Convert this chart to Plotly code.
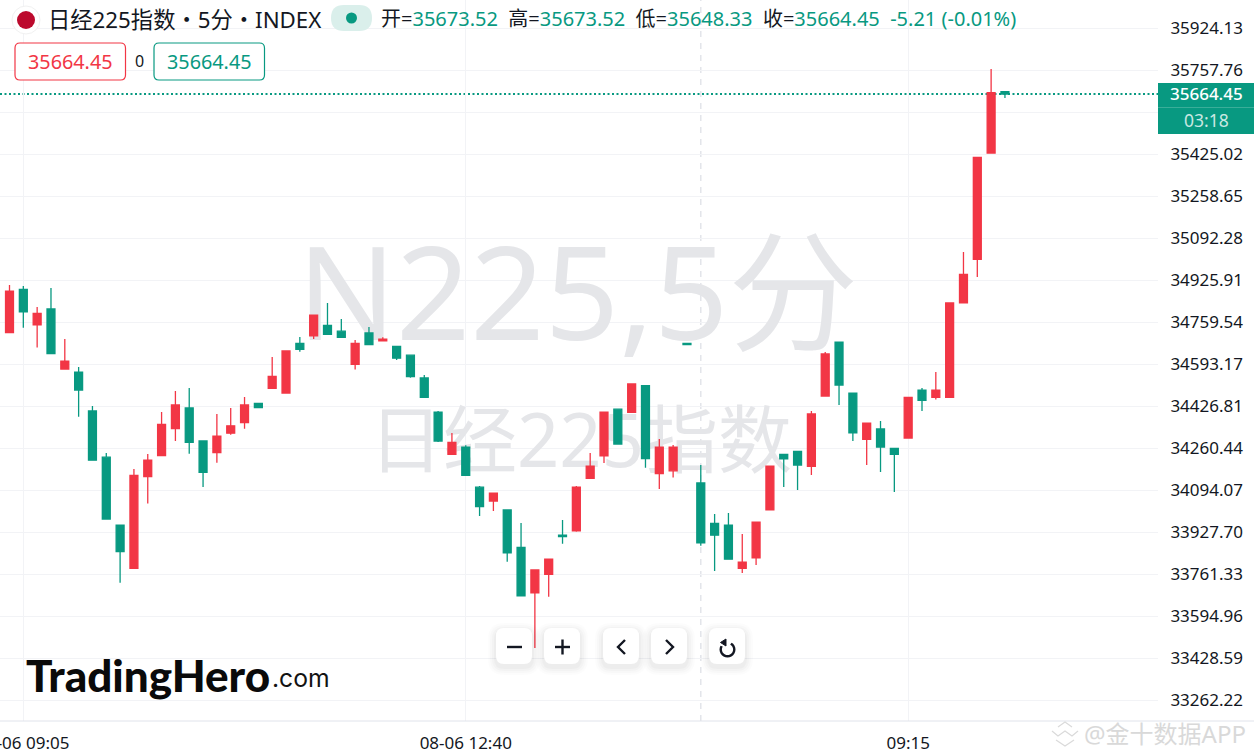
import math

import plotly.graph_objects as go

FONT = "Noto Sans, Noto Sans CJK SC, sans-serif"
UP = "#f23645"
DOWN = "#089981"
GRID = "#f2f3f6"
AXIS = "#e0e3eb"
WIDTH = 1254
HEIGHT = 755
PLOT_W = 1158
PLOT_H = 721

# 5 minute bars
opens = [34719, 34891, 34750, 34813, 34575, 34563, 34409, 34226, 33957, 33786, 34149, 34232,
         34339, 34421, 34290, 34244, 34321, 34363, 34439, 34499, 34480, 34677, 34707, 34748,
         34725, 34594, 34718, 34687, 34665, 34630, 34540, 34404, 34237, 34266, 34107, 34052,
         34017, 33869, 33689, 33762, 33917, 33934, 34142, 34231, 34416, 34404, 34509, 34161,
         34172, 34677, 34124, 33964, 33957, 33786, 33827, 34017, 34237, 34249, 34190, 34468,
         34682, 34480, 34297, 34338, 34261, 34302, 34492, 34463, 34463, 34837, 35010, 35431,
         35673.52]
highs = [34908, 34904, 34821, 34896, 34694, 34583, 34429, 34243, 33957, 34179, 34239, 34405,
         34488, 34500, 34290, 34397, 34421, 34464, 34439, 34623, 34647, 34702, 34789, 34837,
         34773, 34690, 34742, 34701, 34665, 34630, 34552, 34409, 34322, 34273, 34112, 34083,
         34017, 33965, 33779, 33822, 33977, 34112, 34243, 34404, 34416, 34516, 34509, 34298,
         34274, 34677, 34195, 34001, 34005, 33922, 33969, 34190, 34237, 34249, 34409, 34643,
         34682, 34480, 34361, 34369, 34261, 34463, 34500, 34563, 34837, 35039, 35414, 35764,
         35673.52]
lows = [34719, 34739, 34660, 34636, 34575, 34386, 34214, 33981, 33729, 33786, 34042, 34232,
        34290, 34240, 34108, 34204, 34315, 34339, 34422, 34499, 34480, 34644, 34694, 34713,
        34701, 34573, 34672, 34687, 34611, 34541, 34463, 34286, 34237, 34154, 33993, 34013,
        33812, 33677, 33470, 33673, 33883, 33931, 34142, 34203, 34278, 34404, 34184, 34100,
        34145, 34672, 33875, 33775, 33822, 33767, 33799, 34017, 34108, 34096, 34155, 34468,
        34433, 34290, 34195, 34167, 34088, 34302, 34409, 34454, 34463, 34837, 34940, 35431,
        35648.33]
closes = [34884, 34802, 34796, 34636, 34606, 34492, 34214, 33981, 33852, 34154, 34214, 34356,
          34433, 34285, 34166, 34309, 34350, 34433, 34422, 34546, 34647, 34653, 34789, 34713,
          34701, 34677, 34672, 34694, 34618, 34545, 34463, 34290, 34285, 34154, 34030, 34083,
          33847, 33677, 33779, 33822, 33911, 34107, 34190, 34404, 34278, 34516, 34220, 34266,
          34266, 34672, 33887, 33917, 33822, 33810, 33969, 34190, 34219, 34195, 34397, 34635,
          34512, 34322, 34361, 34266, 34237, 34463, 34451, 34492, 34837, 34950, 35414, 35670,
          35664.45]
bar_index = list(range(len(opens)))

last_price = 35664.45

price_ticks = [35924.13, 35757.76, 35591.39, 35425.02, 35258.65, 35092.28, 34925.91, 34759.54,
               34593.17, 34426.81, 34260.44, 34094.07, 33927.70, 33761.33, 33594.96, 33428.59,
               33262.22]
# the 35591.39 label sits behind the price tag
price_labels = ["" if p == 35591.39 else "%.2f" % p for p in price_ticks]

time_ticks = [1, 33, 65]
time_labels = ["08-06 09:05", "08-06 12:40", "09:15"]
crosshair_bar = 50

# axis ranges that make one bar 13.83 px and one grid step 42 px
x_range = [-0.687, 83.07]
y_range = [33180.9, 36037.02]


def px(x):
    return x / PLOT_W


def py(y):
    return 1 - y / PLOT_H


def round_rect(x0, y0, x1, y1, r):
    """Rounded rectangle as an svg path, given in page pixels."""
    pts = [("M", x0 + r, y0), ("L", x1 - r, y0), ("Q", x1, y0, x1, y0 + r), ("L", x1, y1 - r),
           ("Q", x1, y1, x1 - r, y1), ("L", x0 + r, y1), ("Q", x0, y1, x0, y1 - r),
           ("L", x0, y0 + r), ("Q", x0, y0, x0 + r, y0)]
    out = ""
    for p in pts:
        nums = p[1:]
        coords = [px(n) if i % 2 == 0 else py(n) for i, n in enumerate(nums)]
        out += p[0] + " ".join("%.5f" % c for c in coords) + " "
    return out + "Z"


def poly(points):
    return "M" + " L".join("%.5f %.5f" % (px(x), py(y)) for x, y in points)


def circle(cx, cy, r, **kw):
    return dict(type="circle", xref="paper", yref="paper", x0=px(cx - r), x1=px(cx + r),
                y0=py(cy + r), y1=py(cy - r), **kw)


def path(d, **kw):
    return dict(type="path", xref="paper", yref="paper", path=d, **kw)


def label(x, y, text, size, color="#131722", anchor="left", font=FONT, weight="normal"):
    return dict(xref="paper", yref="paper", x=px(x), y=py(y), text=text, showarrow=False,
                xanchor=anchor, yanchor="middle",
                font=dict(size=size, color=color, family=font, weight=weight))


fig = go.Figure()

# watermark goes behind the bars, so it is a text trace and not an annotation
fig.add_trace(go.Scatter(x=[41.1, 41.3], y=[34817, 34262], mode="text",
                         text=["N225,5分", "日经225指数"], zorder=-1, hoverinfo="skip",
                         textposition="middle center", showlegend=False,
                         textfont=dict(size=[130, 74], color="#e5e6e9", family=FONT)))

fig.add_trace(go.Candlestick(x=bar_index, open=opens, high=highs, low=lows, close=closes,
                             zorder=1, whiskerwidth=0, showlegend=False,
                             increasing=dict(line=dict(color=UP, width=1.3), fillcolor=UP),
                             decreasing=dict(line=dict(color=DOWN, width=1.3), fillcolor=DOWN)))

shapes = [
    # crosshair and last price line
    dict(type="line", xref="x", yref="paper", x0=crosshair_bar, x1=crosshair_bar, y0=0, y1=1,
         layer="below", line=dict(color="#e3e5ea", width=1.5, dash="6px,6px")),
    dict(type="line", xref="paper", yref="y", x0=0, x1=1, y0=last_price, y1=last_price,
         layer="below", line=dict(color=DOWN, width=2, dash="2px,2.5px")),
    # bottom line runs under the price scale too
    dict(type="line", xref="paper", yref="paper", x0=0, x1=px(WIDTH), y0=0, y1=0,
         line=dict(color=AXIS, width=1)),
    # price tag
    dict(type="rect", xref="paper", yref="paper", x0=1, x1=px(WIDTH), y0=py(83), y1=py(134),
         fillcolor=DOWN, line=dict(width=0)),
    dict(type="line", xref="paper", yref="paper", x0=1, x1=px(WIDTH), y0=py(107.5), y1=py(107.5),
         line=dict(color="#3aae99", width=1)),
    # header
    circle(26, 20, 14, fillcolor="white", line=dict(color="#f1f1f1", width=1)),
    circle(26, 20, 9, fillcolor="#bc0a2d", line=dict(width=0)),
    path(round_rect(331, 5, 372, 31, 13), fillcolor="#daefeb", line=dict(width=0)),
    circle(351.5, 18, 5.5, fillcolor=DOWN, line=dict(width=0)),
    path(round_rect(15, 43, 125.5, 80, 5), fillcolor="white", line=dict(color=UP, width=1.2)),
    path(round_rect(154, 43, 264.5, 80, 5), fillcolor="white", line=dict(color=DOWN, width=1.2)),
]

# zoom / scroll buttons with a soft shadow
for bx in [496, 544, 603, 651, 709]:
    for grow, alpha in [(8, 0.012), (6, 0.014), (4, 0.018), (2, 0.022)]:
        shapes.append(path(round_rect(bx - grow, 628 - grow + 3, bx + 36 + grow, 664 + grow + 3, 8 + grow),
                           fillcolor="rgba(0,0,0,%s)" % alpha, line=dict(width=0)))
    shapes.append(path(round_rect(bx, 628, bx + 36, 664, 8), fillcolor="white", line=dict(width=0)))

ICON = dict(color="#131722", width=2.4)
shapes.append(path(poly([(507, 647), (522, 647)]), line=ICON))
shapes.append(path(poly([(555, 647), (570, 647)]), line=ICON))
shapes.append(path(poly([(562.5, 639.5), (562.5, 654.5)]), line=ICON))
shapes.append(path(poly([(625, 640), (618, 647), (625, 654)]), line=ICON))
shapes.append(path(poly([(666, 640), (673, 647), (666, 654)]), line=ICON))
# reset arrow
arc = [(727.5 + 6.8 * math.cos(math.radians(a)), 649.5 + 6.8 * math.sin(math.radians(a)))
       for a in range(-60, 215, 15)]
shapes.append(path(poly(arc), line=ICON))
shapes.append(path(poly([(726, 639), (726, 646), (720.5, 642.5)]) + " Z",
                   fillcolor="#131722", line=dict(color="#131722", width=1)))

# site mark, bottom right
MARK = dict(color="#dadada", width=1.2)
shapes.append(path(poly([(1052, 731), (1058, 736), (1065, 731), (1072, 736), (1078, 731)]), line=MARK))
shapes.append(path(poly([(1058, 727), (1065, 722), (1072, 727)]), line=MARK))
shapes.append(path(poly([(1056, 740), (1065, 746), (1074, 740)]), line=MARK))

ohlc_text = ('<span style="color:#131722">开=</span>35673.52\u00a0\u00a0'
             '<span style="color:#131722">高=</span>35673.52\u00a0\u00a0'
             '<span style="color:#131722">低=</span>35648.33\u00a0\u00a0'
             '<span style="color:#131722">收=</span>35664.45\u00a0\u00a0-5.21 (-0.01%)')

annotations = [
    label(46, 20, "日经225指数・5分・INDEX", 22.3),
    label(379, 19, ohlc_text, 20, DOWN),
    label(70, 61.5, "35664.45", 19.8, UP, "center"),
    label(139, 61, "0", 16, "#131722", "center"),
    label(209, 61.5, "35664.45", 19.8, DOWN, "center"),
    label(1206, 94, "35664.45", 17, "white", "center", FONT, 500),
    label(1206, 120, "03:18", 17.5, "#c9e8e1", "center"),
    label(24, 675, "TradingHero", 44, "#0a0a0a", "left", "Lato, sans-serif", 900),
    label(270, 678, ".com", 24.7, "#131313", "left", "Inter, sans-serif"),
    label(1082, 733, "@金十数据APP", 24, "#d9d9d9"),
]

fig.update_layout(
    width=WIDTH,
    height=HEIGHT,
    margin=dict(l=0, r=WIDTH - PLOT_W, t=0, b=HEIGHT - PLOT_H, autoexpand=False),
    paper_bgcolor="white",
    plot_bgcolor="white",
    boxgap=0.18,
    showlegend=False,
    hovermode=False,
    shapes=shapes,
    annotations=annotations,
    font=dict(family=FONT, color="#131722"),
    xaxis=dict(range=x_range, tickmode="array", tickvals=time_ticks, ticktext=time_labels,
               showgrid=True, gridcolor=GRID, gridwidth=1, zeroline=False, showline=False,
               ticks="", ticklabeloverflow="allow", ticklabelstandoff=10, rangeslider=dict(visible=False),
               tickfont=dict(size=17, color="#131722", family=FONT)),
    yaxis=dict(range=y_range, side="right", tickmode="array", tickvals=price_ticks, ticktext=price_labels,
               showgrid=True, gridcolor=GRID, gridwidth=1, zeroline=False, showline=True,
               linecolor=AXIS, linewidth=1, ticks="", ticklabelstandoff=8,
               tickfont=dict(size=17, color="#131722", family=FONT)),
)

fig.write_html("out.html", config={"displayModeBar": False},
               post_script="document.body.style.margin='0';document.body.style.overflow='hidden';")
